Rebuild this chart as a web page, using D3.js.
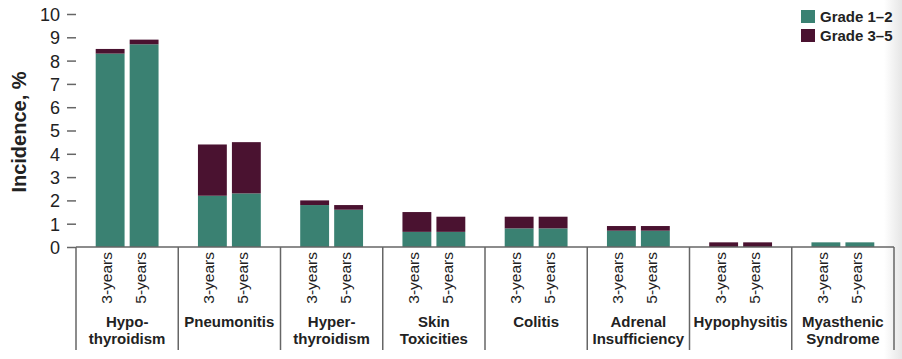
<!DOCTYPE html>
<html><head><meta charset="utf-8">
<script src="https://cdn.jsdelivr.net/npm/d3@7"></script>
<style>body{margin:0;background:#fff}svg{display:block}text{font-family:"Liberation Sans",Arial,sans-serif;fill:#222}</style>
</head><body><svg id="c" width="902" height="359"></svg>
<script>
const categories = [["Hypo-","thyroidism"],["Pneumonitis"],["Hyper-","thyroidism"],["Skin","Toxicities"],["Colitis"],["Adrenal","Insufficiency"],["Hypophysitis"],["Myasthenic","Syndrome"]];
const periods = ["3-years","5-years"];
const grade12_3y = [8.3, 2.2, 1.8, 0.65, 0.8, 0.7, 0, 0.2];
const grade35_3y = [0.2, 2.2, 0.2, 0.85, 0.5, 0.2, 0.2, 0];
const grade12_5y = [8.7, 2.3, 1.6, 0.65, 0.8, 0.7, 0, 0.2];
const grade35_5y = [0.2, 2.2, 0.2, 0.65, 0.5, 0.2, 0.2, 0];
const seriesNames = ["Grade 1–2","Grade 3–5"];
const colors = ["#3a8172","#4a1230"];
const yTicks = [0,1,2,3,4,5,6,7,8,9,10];

const svg = d3.select("#c");
const defs = svg.append("defs");
const lg = defs.append("linearGradient").attr("id","edge").attr("x1","0").attr("x2","1");
lg.append("stop").attr("offset","0").attr("stop-color","#fff");
lg.append("stop").attr("offset","1").attr("stop-color","#e6e6e6");
svg.append("rect").attr("x",884).attr("y",0).attr("width",18).attr("height",359).attr("fill","url(#edge)");

const idx = categories.map((d,i)=>i);
const x0 = d3.scaleBand().domain(idx).range([76,894]).padding(0);
const x1 = d3.scaleBand().domain(periods).range([0,x0.bandwidth()]).paddingInner(0.15).paddingOuter(0.58);
const y = d3.scaleLinear().domain([0,10]).range([247,14]);

const rows = [];
idx.forEach(i=>{
  rows.push({cat:i, period:"3-years", "Grade 1–2":grade12_3y[i], "Grade 3–5":grade35_3y[i]});
  rows.push({cat:i, period:"5-years", "Grade 1–2":grade12_5y[i], "Grade 3–5":grade35_5y[i]});
});
const stacked = d3.stack().keys(seriesNames)(rows);

svg.append("g").selectAll("g").data(stacked).join("g")
  .attr("fill",(d,i)=>colors[i])
  .selectAll("rect").data(d=>d).join("rect")
  .attr("x",d=>x0(d.data.cat)+x1(d.data.period))
  .attr("width",x1.bandwidth())
  .attr("y",d=>y(d[1]))
  .attr("height",d=>y(d[0])-y(d[1]));

const ya = svg.append("g").attr("transform","translate(76,0)")
  .call(d3.axisLeft(y).tickValues(yTicks).tickSize(9).tickPadding(7).tickFormat(d3.format("d")));
ya.select(".domain").remove();
ya.selectAll("line").attr("stroke","#666").attr("stroke-width",1.5);
ya.selectAll("text").style("font-size","18px").attr("fill","#222").attr("dy","0.36em");

svg.append("text").attr("transform","translate(26,132) rotate(-90)")
  .attr("text-anchor","middle").style("font-size","20px").style("font-weight","bold").text("Incidence, %");

svg.append("line").attr("x1",76).attr("x2",894).attr("y1",247).attr("y2",247).attr("stroke","#666").attr("stroke-width",1.5);
const bounds = idx.map(i=>x0(i)).concat([x0(idx.length-1)+x0.bandwidth()]);
svg.append("g").selectAll("line").data(bounds).join("line")
  .attr("x1",d=>d).attr("x2",d=>d).attr("y1",247).attr("y2",350)
  .attr("stroke","#666").attr("stroke-width",1.5);

svg.append("g").selectAll("text").data(rows).join("text")
  .attr("transform",d=>{const cx=x0(d.cat)+x1(d.period)+x1.bandwidth()/2+2;return `translate(${cx},252) rotate(-90)`;})
  .attr("text-anchor","end").style("font-size","15.5px").text(d=>d.period);

const cl = svg.append("g").selectAll("text").data(idx).join("text")
  .attr("x",i=>x0(i)+x0.bandwidth()/2).attr("y",327)
  .attr("text-anchor","middle").style("font-size","15px").style("font-weight","bold");
cl.selectAll("tspan").data(i=>categories[i].map(t=>({t,i}))).join("tspan")
  .attr("x",d=>x0(d.i)+x0.bandwidth()/2).attr("dy",(d,j)=>j===0?0:17).text(d=>d.t);

const leg = svg.append("g").selectAll("g").data(seriesNames).join("g")
  .attr("transform",(d,i)=>`translate(801,${10+i*19})`);
leg.append("rect").attr("width",14).attr("height",13).attr("fill",(d,i)=>colors[i]);
leg.append("text").attr("x",19).attr("y",12).style("font-size","15px").style("font-weight","bold").text(d=>d);
</script></body></html>
